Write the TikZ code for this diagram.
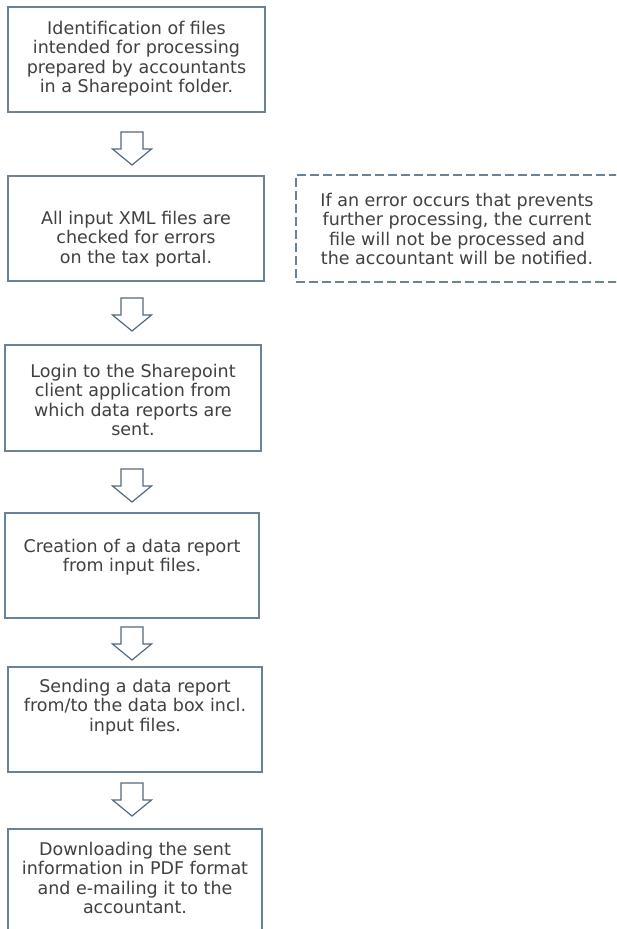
\documentclass[tikz,border=0pt]{standalone}
\usepackage{fontspec}
\setmainfont{DejaVu Sans}
\definecolor{bordercol}{HTML}{6A8296}
\definecolor{arrowcol}{HTML}{56697A}
\definecolor{txtcol}{HTML}{404040}
\begin{document}
\begin{tikzpicture}[x=1pt,y=-1pt,
  box/.style={draw=bordercol, line width=2pt, fill=white, inner sep=0pt},
  notebox/.style={draw=bordercol, line width=2pt, dash pattern=on 9pt off 4pt, inner sep=0pt},
  txt/.style={text=txtcol, align=center, inner sep=0pt, font=\fontsize{17.5}{19.5}\selectfont},
  downarr/.pic={\draw[arrowcol, line width=1.2pt, line join=miter, fill=white]
     (-11,0) -- (-11,17) -- (-19.5,17) -- (0,33) -- (19.5,17) -- (11,17) -- (11,0) -- cycle;}]
\useasboundingbox (0,0) rectangle (616,929);
\clip (0,0) rectangle (616,929);
\node[box, minimum width=257pt, minimum height=105pt] (b1) at (136.5,59.5) {};
\node[txt] (t1) at (136.5,58.5) {Identification of files\\intended for processing\\prepared by accountants\\in a Sharepoint folder.};
\node[box, minimum width=256pt, minimum height=105pt] (b2) at (136,228.5) {};
\node[txt] (t2) at (136,239) {All input XML files are\\checked for errors\\on the tax portal.};
\node[notebox, minimum width=322pt, minimum height=107pt] (n1) at (457,228.5) {};
\node[txt] (tn) at (457,229) {If an error occurs that prevents\\further processing, the current\\file will not be processed and\\the accountant will be notified.};
\node[box, minimum width=256pt, minimum height=106pt] (b3) at (133,398) {};
\node[txt] (t3) at (133,400) {Login to the Sharepoint\\client application from\\which data reports are\\sent.};
\node[box, minimum width=254pt, minimum height=105pt] (b4) at (132,565.5) {};
\node[txt] (t4) at (132,557) {Creation of a data report\\from input files.};
\node[box, minimum width=254pt, minimum height=105pt] (b5) at (135,719.5) {};
\node[txt] (t5) at (135,707) {Sending a data report\\from/to the data box incl.\\input files.};
\node[box, minimum width=254pt, minimum height=106pt] (b6) at (135,882) {};
\node[txt] (t6) at (135,878) {Downloading the sent\\information in PDF format\\and e-mailing it to the\\accountant.};
\pic at (132,132) {downarr};
\pic at (132,298) {downarr};
\pic at (132,469) {downarr};
\pic at (132,627) {downarr};
\pic at (132,783) {downarr};
\end{tikzpicture}
\end{document}
